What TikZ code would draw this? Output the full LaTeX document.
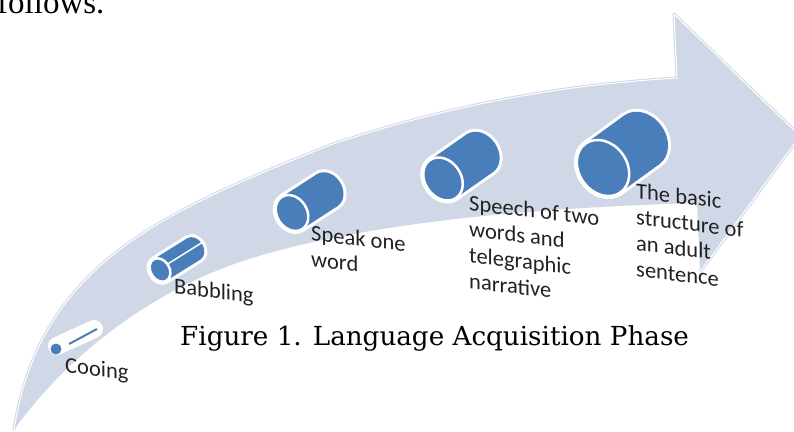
\documentclass[tikz,border=0pt]{standalone}
\usepackage{fontspec}
\newfontfamily\lblfont{Carlito}
\newfontfamily\capfont{DejaVu Serif}
\newfontfamily\bodyfont{Liberation Serif}
\definecolor{arrowfill}{RGB}{208,216,232}
\definecolor{cylblue}{RGB}{74,126,187}
\definecolor{lbltext}{RGB}{34,34,34}

% outline of the curved arrow (y grows downward)
\newcommand\arrowtop{(14,430) .. controls (40,260) and (170,210) .. (330,145)
  .. controls (450,105) and (560,85) .. (677,78) -- (674,14) -- (800,136)
  -- (700,272)}
\newcommand\arrowoutline{\arrowtop -- (697,203) .. controls (520,208) and (350,225) .. (240,262)
  .. controls (140,296) and (60,365) .. (14,430) -- cycle}

% cylinder lying along its axis: #1 front centre, #2 angle, #3 radius,
% #4 half-width of the end face, #5 axis length, #6 extra drawing
\newcommand\drawcyl[6]{%
  \begin{scope}[shift={(#1)}, rotate=#2]
    \fill[white] (0,0) ellipse [x radius=#4+3, y radius=#3+3];
    \fill[white] (0,-#3-3) -- (#5,-#3-3) -- (#5,#3+3) -- (0,#3+3) -- cycle;
    \fill[white] (#5,0) ellipse [x radius=#4+3, y radius=#3+3];
    \fill[cylblue] (0,-#3) -- (#5,-#3) -- (#5,#3) -- (0,#3) -- cycle;
    \fill[cylblue] (#5,0) ellipse [x radius=#4, y radius=#3];
    #6
    \fill[cylblue, draw=white, line width=2.5pt] (0,0) ellipse [x radius=#4, y radius=#3];
  \end{scope}}

\tikzset{
  lbl/.style={font=\lblfont\fontsize{22.5}{26}\selectfont, text=lbltext,
    anchor=north west, yslant=-0.12, align=left, inner sep=0pt},
}

\begin{document}
\begin{tikzpicture}[x=1pt, y=-1pt]
\useasboundingbox (0,0) rectangle (794,431);
\clip (0,0) rectangle (794,431);

% the arrow
\fill[arrowfill] \arrowoutline;
\draw[arrowfill, line width=3pt, line join=round] \arrowtop;
\draw[white, line width=1pt, line join=round] \arrowtop;

% stage 1: a thin rod
\coordinate (c1) at (56,349);
\draw[white, line width=18pt, line cap=round] (57,346) -- (94,329);
\fill[cylblue] (c1) circle (5.5);
\draw[cylblue, line width=2pt] (69,344) -- (97,329);

% stages 2 to 5: cylinders growing in size
\coordinate (c2) at (160,270);
\coordinate (c3) at (292,213);
\coordinate (c4) at (443,179);
\coordinate (c5) at (603,168);
\drawcyl{c2}{32}{12.5}{9.5}{40}{\draw[white, line width=1.5pt] (0,-1) -- (50,-1);}
\drawcyl{c3}{33}{19}{15}{42}{}
\drawcyl{c4}{35}{23}{18}{45}{}
\drawcyl{c5}{36}{30}{24}{48}{}

% stage labels
\node[lbl] (l1) at (65,354) {\strut Cooing};
\node[lbl] (l2) at (174,275) {\strut Babbling};
\node[lbl] (l3) at (311,222) {\strut Speak one\\word};
\node[lbl] (l4) at (469,192) {\strut Speech of two\\words and\\telegraphic\\narrative};
\node[lbl] (l5) at (636,180) {\strut The basic\\structure of\\an adult\\sentence};

% caption and surrounding text
\node[font=\capfont\fontsize{26.2}{30}\selectfont, anchor=base west, inner sep=0pt]
  (caption) at (180,345) {Figure 1. Language Acquisition Phase};
\node[font=\bodyfont\fontsize{33}{36}\selectfont, anchor=base west, inner sep=0pt]
  (prev) at (-3,13) {follows.};
\end{tikzpicture}
\end{document}
